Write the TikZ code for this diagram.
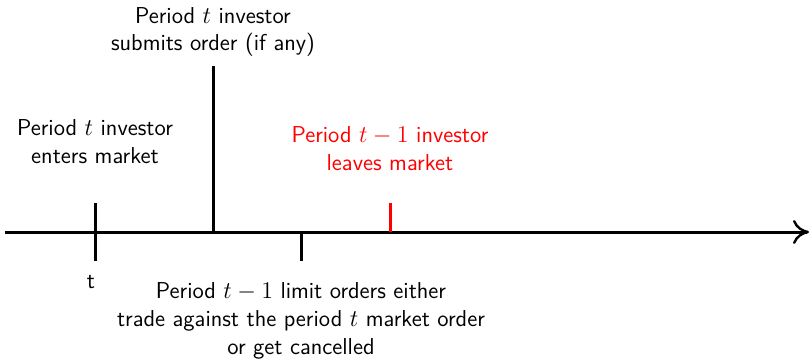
\documentclass[tikz,border=0pt]{standalone}
\usetikzlibrary{arrows.meta}
\begin{document}
\begin{tikzpicture}[x=0.5pt,y=-0.5pt,
  axis/.style={line width=1.5pt},
  tick/.style={line width=1.5pt},
  lbl/.style={align=center,font=\sffamily\fontsize{11.5}{13.9}\selectfont,inner sep=0pt}]
\useasboundingbox (0,0) rectangle (811,360);
\coordinate (s) at (5,232);
\coordinate (e) at (809,232);
\draw[axis,-{To[length=8pt,width=12pt,line width=1.2pt]}] (s) -- (e);
\coordinate (a1) at (95,203); \coordinate (a2) at (95,261);
\coordinate (b1) at (213,66); \coordinate (b2) at (213,232);
\coordinate (c1) at (301,232); \coordinate (c2) at (301,261);
\coordinate (d1) at (390,203); \coordinate (d2) at (390,232);
\draw[tick] (a1) -- (a2);
\draw[tick] (b1) -- (b2);
\draw[tick] (c1) -- (c2);
\draw[tick,red] (d1) -- (d2);
\node[lbl] (top) at (213,32) {Period $t$ investor\\submits order (if any)};
\node[lbl] (enter) at (95,142) {Period $t$ investor\\enters market};
\node[lbl,text=red] (leave) at (390,149) {Period $t-1$ investor\\leaves market};
\node[lbl] (tt) at (91,282) {t};
\node[lbl] (bot) at (301,321) {Period $t-1$ limit orders either\\trade against the period $t$ market order\\or get cancelled};
\end{tikzpicture}
\end{document}
